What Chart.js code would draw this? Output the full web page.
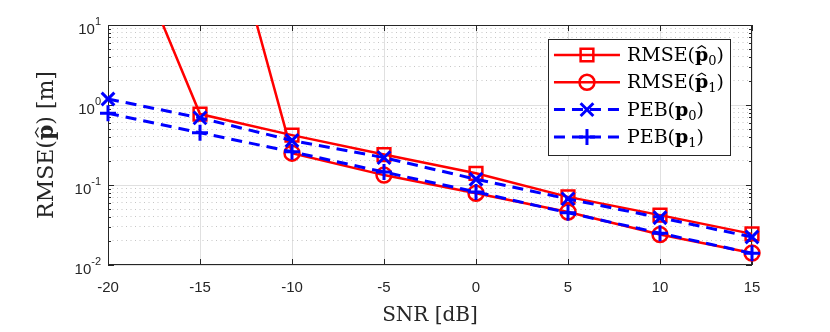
<!DOCTYPE html>
<html>
<head>
<meta charset="utf-8">
<script src="https://cdn.jsdelivr.net/npm/chart.js@4.4.0/dist/chart.umd.min.js"></script>
<style>
  body { margin: 0; background: #fff; }
  #wrap { width: 830px; height: 332px; }
</style>
</head>
<body>
<div id="wrap"><canvas id="c"></canvas></div>
<script>
// data
const snr = [-20, -15, -10, -5, 0, 5, 10, 15];
const rmseP0 = [450, 0.77, 0.42, 0.24, 0.14, 0.071, 0.042, 0.0245];
const rmseP1 = [100000, 4000, 0.25, 0.133, 0.079, 0.046, 0.024, 0.0141];
const pebP0 = [1.19, 0.69, 0.36, 0.22, 0.118, 0.067, 0.039, 0.0224];
const pebP1 = [0.79, 0.45, 0.26, 0.145, 0.082, 0.045, 0.025, 0.014];

const xTicks = [-20, -15, -10, -5, 0, 5, 10, 15];
const yPowers = [-2, -1, 0, 1];
const seriesNames = ["RMSE(p\u03020)", "RMSE(p\u03021)", "PEB(p0)", "PEB(p1)"];
const xTitle = "SNR [dB]";
const yTitle = "RMSE(p\u0302) [m]";

const AX = "#262626";
const SERIF = '"DejaVu Serif"';

function isPow10(v) {
  const l = Math.log10(v);
  return Math.abs(l - Math.round(l)) < 1e-9;
}

// split text: lowercase p bold, combining hat on previous, digit after bold -> subscript
function richParts(text) {
  const parts = [];
  for (let i = 0; i < text.length; i++) {
    const ch = text[i];
    const prev = parts[parts.length - 1];
    if (ch === "\u0302") { prev.hat = true; continue; }
    if (/[0-9]/.test(ch) && prev && prev.bold) { parts.push({ t: ch, sub: true }); continue; }
    if (ch === "p") { parts.push({ t: ch, bold: true }); continue; }
    if (prev && !prev.bold && !prev.sub && !prev.hat) { prev.t += ch; continue; }
    parts.push({ t: ch });
  }
  return parts;
}
function partFont(p, size) {
  return (p.bold ? "bold " : "") + (p.sub ? Math.round(size * 0.7) : size) + "px " + SERIF;
}
function richWidth(ctx, text, size) {
  let w = 0;
  richParts(text).forEach(p => { ctx.font = partFont(p, size); w += ctx.measureText(p.t).width; });
  return w;
}
function drawRich(ctx, text, x, y, size) {
  let cx = x;
  ctx.textAlign = "left";
  ctx.textBaseline = "alphabetic";
  richParts(text).forEach(p => {
    ctx.font = partFont(p, size);
    const w = ctx.measureText(p.t).width;
    ctx.fillText(p.t, cx, p.sub ? y + size * 0.22 : y);
    if (p.hat) {
      const hy = y - size * 0.66;
      ctx.save();
      ctx.lineWidth = 1.2;
      ctx.strokeStyle = ctx.fillStyle;
      ctx.beginPath();
      ctx.moveTo(cx + w * 0.18, hy);
      ctx.lineTo(cx + w * 0.5, hy - size * 0.14);
      ctx.lineTo(cx + w * 0.82, hy);
      ctx.stroke();
      ctx.restore();
    }
    cx += w;
  });
  return cx - x;
}

const pts = arr => snr.map((x, i) => ({ x: x, y: arr[i] }));
const clipBox = { left: 12, right: 12, top: 0, bottom: 12 };

const framePlugin = {
  id: "frame",
  beforeDatasetsDraw(chart) {
    const { ctx, chartArea: a } = chart;
    const xs = chart.scales.x, ys = chart.scales.y;
    ctx.save();
    ctx.strokeStyle = AX;
    ctx.lineWidth = 1;
    ctx.strokeRect(a.left + 0.5, a.top + 0.5, a.right - a.left - 1, a.bottom - a.top - 1);
    ctx.beginPath();
    xs.ticks.forEach(t => {
      const px = Math.round(xs.getPixelForValue(t.value)) + 0.5;
      ctx.moveTo(px, a.bottom); ctx.lineTo(px, a.bottom - 6);
      ctx.moveTo(px, a.top); ctx.lineTo(px, a.top + 6);
    });
    ys.ticks.forEach(t => {
      const py = Math.round(ys.getPixelForValue(t.value)) + 0.5;
      const len = isPow10(t.value) ? 6 : 3;
      ctx.moveTo(a.left, py); ctx.lineTo(a.left + len, py);
      ctx.moveTo(a.right, py); ctx.lineTo(a.right - len, py);
    });
    ctx.stroke();

    // y tick labels 10^n
    ctx.fillStyle = AX;
    ctx.textBaseline = "middle";
    ctx.textAlign = "left";
    yPowers.forEach(p => {
      const py = ys.getPixelForValue(Math.pow(10, p));
      const ex = String(p);
      ctx.font = "11px 'Liberation Sans'";
      const ew = ctx.measureText(ex).width;
      ctx.font = "15px 'Liberation Sans'";
      const bw = ctx.measureText("10").width;
      const right = a.left - 7;
      ctx.fillText("10", right - ew - bw, py + 5);
      ctx.font = "11px 'Liberation Sans'";
      ctx.fillText(ex, right - ew, py - 3);
    });

    // axis titles
    ctx.fillStyle = AX;
    const xw = richWidth(ctx, xTitle, 20);
    drawRich(ctx, xTitle, (a.left + a.right) / 2 - xw / 2, 321, 20);
    ctx.translate(46, (a.top + a.bottom) / 2);
    ctx.rotate(-Math.PI / 2);
    const yw = richWidth(ctx, yTitle, 22);
    drawRich(ctx, yTitle, -yw / 2, 7, 22);
    ctx.restore();
  },
  afterDatasetsDraw(chart) {
    const { ctx, chartArea: a } = chart;
    const size = 19;
    ctx.save();
    let tw = 0;
    chart.data.datasets.forEach(d => { tw = Math.max(tw, richWidth(ctx, d.label, size)); });
    const rowH = 27.3;
    const w = 6 + 66 + 7 + tw + 6;
    const h = 116;
    const x0 = a.right - 22 - w, y0 = a.top + 14;
    ctx.fillStyle = "#fff";
    ctx.fillRect(x0, y0, w, h);
    ctx.strokeStyle = AX;
    ctx.lineWidth = 1;
    ctx.strokeRect(Math.round(x0) + 0.5, Math.round(y0) + 0.5, Math.round(w), h);
    chart.data.datasets.forEach((d, i) => {
      const cy = y0 + 16 + i * rowH;
      const lx = x0 + 6;
      ctx.save();
      ctx.strokeStyle = d.borderColor;
      ctx.lineWidth = d.borderWidth;
      ctx.setLineDash(d.borderDash || []);
      ctx.beginPath();
      ctx.moveTo(lx, cy); ctx.lineTo(lx + 66, cy);
      ctx.stroke();
      ctx.setLineDash([]);
      ctx.fillStyle = "rgba(0,0,0,0)";
      Chart.helpers.drawPoint(ctx, {
        pointStyle: d.pointStyle, radius: d.pointRadius, borderWidth: d.pointBorderWidth, rotation: 0
      }, lx + 33, cy);
      ctx.restore();
      ctx.fillStyle = "#000";
      drawRich(ctx, d.label, lx + 73, cy + 6, size);
    });
    ctx.restore();
  }
};

const chart = new Chart(document.getElementById("c"), {
  type: "line",
  data: {
    datasets: [
      { label: seriesNames[0], data: pts(rmseP0), borderColor: "#ff0000", backgroundColor: "rgba(0,0,0,0)",
        pointBackgroundColor: "rgba(0,0,0,0)", borderWidth: 2.5, pointStyle: "rect", pointRadius: 9,
        pointBorderWidth: 2.5, clip: clipBox, order: 4 },
      { label: seriesNames[1], data: pts(rmseP1), borderColor: "#ff0000", backgroundColor: "rgba(0,0,0,0)",
        pointBackgroundColor: "rgba(0,0,0,0)", borderWidth: 2.5, pointStyle: "circle", pointRadius: 7.5,
        pointBorderWidth: 2.5, clip: clipBox, order: 3 },
      { label: seriesNames[2], data: pts(pebP0), borderColor: "#0000ff", backgroundColor: "rgba(0,0,0,0)",
        pointBackgroundColor: "rgba(0,0,0,0)", borderWidth: 3, borderDash: [11, 7], pointStyle: "crossRot",
        pointRadius: 9, pointBorderWidth: 3, clip: clipBox, order: 2 },
      { label: seriesNames[3], data: pts(pebP1), borderColor: "#0000ff", backgroundColor: "rgba(0,0,0,0)",
        pointBackgroundColor: "rgba(0,0,0,0)", borderWidth: 3, borderDash: [11, 7], pointStyle: "cross",
        pointRadius: 8, pointBorderWidth: 3, clip: clipBox, order: 1 }
    ]
  },
  options: {
    responsive: true,
    maintainAspectRatio: false,
    animation: false,
    layout: { padding: { left: 0, right: 78, top: 25, bottom: 0 } },
    plugins: { legend: { display: false }, tooltip: { enabled: false } },
    scales: {
      x: {
        type: "linear",
        min: -20,
        max: 15,
        afterBuildTicks: s => { s.ticks = xTicks.map(v => ({ value: v })); },
        afterFit: s => { s.height = 67; },
        grid: { color: "#e0e0e0", lineWidth: 1, drawTicks: false },
        border: { display: false },
        ticks: { font: { family: "Liberation Sans", size: 15 }, color: AX, padding: 14, maxRotation: 0 }
      },
      y: {
        type: "logarithmic",
        min: 0.01,
        max: 10,
        afterBuildTicks: s => {
          const t = [];
          yPowers.forEach((p, i) => {
            if (i === yPowers.length - 1) { t.push({ value: Math.pow(10, p), major: true }); return; }
            for (let k = 1; k <= 9; k++) t.push({ value: k * Math.pow(10, p), major: k === 1 });
          });
          s.ticks = t;
        },
        afterFit: s => { s.width = 108; },
        grid: {
          drawTicks: false,
          lineWidth: 1,
          color: c => (c.tick && !isPow10(c.tick.value)) ? "#c6c6c6" : "#e0e0e0"
        },
        border: {
          display: false,
          dash: c => (c.tick && !isPow10(c.tick.value)) ? [1, 3.5] : []
        },
        ticks: { display: false }
      }
    }
  },
  plugins: [framePlugin]
});
</script>
</body>
</html>
